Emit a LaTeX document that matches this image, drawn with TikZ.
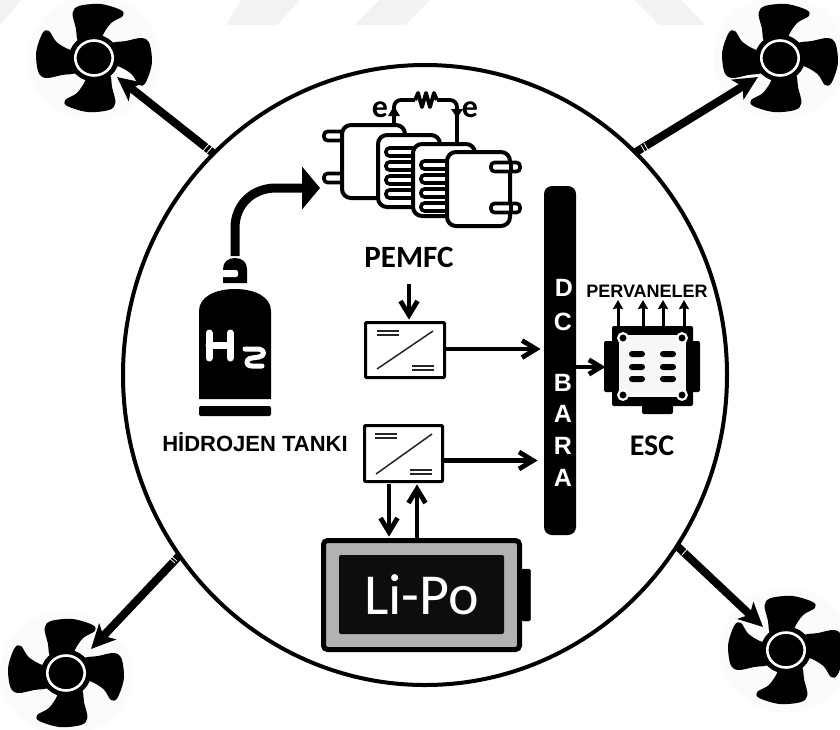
\documentclass[tikz,border=0pt]{standalone}
\usepackage{fontspec}
\setmainfont{Liberation Sans}
\newfontfamily\calfont{Carlito}
\usetikzlibrary{arrows.meta}
\tikzset{
  x=1pt,y=-1pt,
  fan/.pic={
    \begin{scope}[xscale=1.07]
    \fill[black!1.5] (0,0) circle[radius=62];
    \foreach \a in {0,90,180,270}{
      \fill[black,rotate=\a] plot[smooth cycle,tension=.55] coordinates
        {(-13,-14) (-17,-30) (-20,-45) (-14,-52) (6,-54) (25,-48) (27,-42) (16,-35) (8,-22) (10,-14)};
    }
    \fill[black] (0,0) circle[radius=23.5];
    \draw[white,line width=2.6pt] (0,0) circle[radius=17.5];
    \end{scope}
  },
  barb/.pic={
    \draw[black,line width=4.8pt,line join=miter] (-19,-8.5) -- (-5,0) -- (-19,8.5);
  },
  thrust/.style={line width=8pt,draw=black,-{Stealth[length=24pt,width=23pt,inset=6pt]}},
  flow/.style={line width=4.6pt,draw=black,shorten >=5pt},
  smallflow/.style={line width=3pt,draw=black,-{Stealth[length=9pt,width=10pt,inset=1pt]}},
  conv/.style={draw=black,line width=3pt,fill=white,rounded corners=1pt,inner sep=0pt},
  plate/.style={draw=black,line width=4pt,fill=white,rounded corners=9pt},
  pill/.style={draw=black,line width=3.6pt,fill=white,rounded corners=3.5pt},
  sig/.style={draw=black!85,line width=1.5pt},
  h2/.style={draw=white,line width=7pt,line cap=round,line join=round},
  wire/.style={draw=black,line width=3.8pt,line join=round},
  busletter/.style={text=white,font=\fontsize{25}{25}\selectfont\bfseries,inner sep=0pt},
  tick/.style={draw=white,line width=.8pt},
}
\begin{document}
\begin{tikzpicture}
\useasboundingbox (0,0) rectangle (840,729);
\fill[white] (0,0) rectangle (840,729);
% faint watermark
\fill[black!5] (0,0) -- (21,0) -- (0,25) -- cycle;
\fill[black!5] (241,0) -- (300,0) -- (277,25) -- (226,25) -- cycle;
\fill[black!5] (380,0) -- (430,0) -- (405,25) -- (354,25) -- cycle;
\fill[black!5] (635,0) -- (681,0) -- (705,25) -- (659,25) -- cycle;
% fans
\pic at (94,58) {fan};
\pic at (780,58) {fan};
\pic at (66,673) {fan};
\pic at (786,650) {fan};
\coordinate (fanTL) at (117,77);
\coordinate (fanTR) at (758,77);
\coordinate (fanBL) at (91,649);
\coordinate (fanBR) at (763,627);
% main circle
\draw[black,line width=4pt] (425,375) ellipse [x radius=302,y radius=310];
\coordinate (hullTL) at (213,153);
\coordinate (hullTR) at (636,152);
\coordinate (hullBL) at (179,556);
\coordinate (hullBR) at (677,546);
\draw[thrust] (hullTL) -- (fanTL);
\draw[thrust] (hullTR) -- (fanTR);
\draw[thrust] (hullBL) -- (fanBL);
\draw[thrust] (hullBR) -- (fanBR);
\draw[tick] (203,151) -- (209,144);
\draw[tick] (206,154) -- (212,147);
\draw[tick] (641,145) -- (646,154);
\draw[tick] (644,143) -- (649,152);
\draw[tick] (168,557) -- (175,563);
\draw[tick] (170,555) -- (177,561);
\draw[tick] (682,555) -- (688,548);
% PEMFC stack
\draw[wire,rounded corners=7pt] (394,125) -- (394,100) -- (415,100);
\draw[wire] (415,100) -- (418,93) -- (422,107) -- (426,93) -- (430,107) -- (434,93) -- (437,100);
\draw[wire,rounded corners=7pt] (437,100) -- (457,100) -- (457,142);
\fill (394,106) -- (388,116) -- (400,116) -- cycle;
\fill (457,118) -- (451,109) -- (463,109) -- cycle;
\node[inner sep=0pt,font=\calfont\bfseries\fontsize{32}{32}\selectfont] (e1) at (380,110) {e};
\node[inner sep=0pt,font=\calfont\bfseries\fontsize{32}{32}\selectfont] (e2) at (470,110) {e};
\draw[pill] (324,131.5) rectangle (344,140.5);
\draw[pill] (324,173.5) rectangle (344,182.5);
\draw[plate] (342,125) rectangle (405,198);
\draw[plate] (378,135) rectangle (440,207);
\foreach \y in {152,166,180,194}{\draw[pill] (386,\y-4) rectangle (416,\y+4);}
\draw[plate] (413,144) rectangle (475,216);
\foreach \y in {165,179,193,207}{\draw[pill] (421,\y-4) rectangle (450,\y+4);}
\draw[plate] (447,152) rectangle (510,226);
\draw[pill] (491,162.5) rectangle (520,171.5);
\draw[pill] (491,203.5) rectangle (520,212.5);
\draw[black,line width=3.6pt] (511,162.5) -- (511,171.5) (511,203.5) -- (511,212.5);
\node[inner sep=0pt,font=\calfont\bfseries\fontsize{31}{31}\selectfont] (pemfc) at (409,257) {PEMFC};
% hydrogen tank
\fill[black] (199,399) -- (199,311) .. controls (199,297) and (215,289) .. (235,289)
  .. controls (255,289) and (271,297) .. (271,311) -- (271,399) -- cycle;
\fill[black,rounded corners=2pt] (199,406) rectangle (271,416);
\fill[black] (223,283) -- (223,269) .. controls (223,262) and (228,258) .. (235,258)
  .. controls (242,258) and (247,262) .. (247,269) -- (247,283) -- cycle;
\fill[white,rounded corners=2pt] (221,270) rectangle (238,277);
\draw[h2] (209,333) -- (209,358) (230,333) -- (230,358) (209,345) -- (230,345);
\draw[white,line width=5pt,line cap=round,line join=round] (245,349) -- (259,349)
  .. controls (265,350) and (265,356) .. (259,357) -- (252,358)
  .. controls (245,359) and (245,366) .. (252,366) -- (262,366);
\node[inner sep=0pt,font=\bfseries\fontsize{22}{22}\selectfont] (tank) at (255,442) {HİDROJEN TANKI};
\coordinate (tankout) at (235,256);
\coordinate (pemfcin) at (320,188);
\draw[black,line width=9pt,-{Triangle[length=18pt,width=42pt]}] (tankout) -- (235,228)
  .. controls (235,205) and (252,188) .. (276,188) -- (pemfcin);
% converters
\node[conv,minimum width=79pt,minimum height=55pt] (c1) at (405,350) {};
\node[conv,minimum width=78pt,minimum height=56pt] (c2) at (403.5,453.5) {};
\draw[sig] (377,369) -- (433,331);
\draw[sig] (377,331) -- (399,331) (377,335) -- (399,335) (412,366) -- (434,366) (412,370) -- (434,370);
\draw[sig] (376,474) -- (432,434);
\draw[sig] (375,434) -- (397,434) (375,438) -- (397,438) (410,470) -- (432,470) (410,474) -- (432,474);
% bus
\node[draw=none,fill=black,rounded corners=8pt,minimum width=32pt,minimum height=349pt,inner sep=0pt] (bus) at (560,360.5) {};
\node[busletter] at (564,288) {D};
\node[busletter] at (563,322) {C};
\node[busletter] at (563,383) {B};
\node[busletter] at (563,414) {A};
\node[busletter] at (563,446) {R};
\node[busletter] at (563,478) {A};
% battery
\node[draw=black,fill=black,rounded corners=2pt,minimum width=9pt,minimum height=52pt,inner sep=0pt] (term) at (526,595) {};
\node[draw=black,line width=5pt,fill=black!30,rounded corners=4pt,minimum width=196pt,minimum height=109pt,inner sep=0pt] (batt) at (421.5,595) {};
\node[fill=black!95,rounded corners=2pt,minimum width=165pt,minimum height=79pt,inner sep=0pt,text=white,font=\calfont\fontsize{58}{58}\selectfont] (lipo) at (421.5,594.5) {Li-Po};
% flow arrows
\coordinate (pemfcout) at (409,284);
\coordinate (cone) at (409,320);
\coordinate (down) at (389,484);
\coordinate (downend) at (389,537);
\coordinate (up) at (417,538);
\coordinate (upend) at (417,484);
\coordinate (busin1) at (541,349);
\coordinate (busin2) at (538,460.5);
\draw[flow] (pemfcout) -- (cone);
\draw[flow] (c1.east |- busin1) -- (busin1);
\draw[flow] (c2.east |- busin2) -- (busin2);
\draw[flow] (down) -- (downend);
\draw[flow] (up) -- (upend);
\pic[rotate=-90] at (cone) {barb};
\pic at (busin1) {barb};
\pic at (busin2) {barb};
\pic[rotate=-90] at (downend) {barb};
\pic[rotate=90] at (upend) {barb};
% ESC
\fill[black,rounded corners=2pt] (642,400) rectangle (673,414);
\fill[black,rounded corners=2pt] (612,326) rectangle (693,406);
\fill[black,rounded corners=2pt] (604,341) rectangle (700,392);
\node[fill=black!3,minimum width=67pt,minimum height=62pt,inner sep=0pt] (esc) at (652.5,366) {};
\foreach \x in {623,682}{\foreach \y in {338,395}{
  \draw[white,line width=2.2pt,fill=black] (\x,\y) circle[radius=4.8];}}
\foreach \x in {637,668}{\foreach \y in {354,367,379}{
  \fill[black,rounded corners=3pt] (\x-8,\y-3) rectangle (\x+8,\y+3);}}
\coordinate (escin) at (605,367);
\draw[flow] (bus.east |- escin) -- (escin);
\pic[scale=.85] at (escin) {barb};
\node[inner sep=0pt,font=\bfseries\fontsize{18}{18}\selectfont] (perv) at (647,291) {PERVANELER};
\foreach \x/\n in {618/a,643/b,663/c,684/d}{
  \coordinate (o\n) at (\x,326);
  \coordinate (p\n) at (\x,300);
  \draw[smallflow] (o\n) -- (p\n);
}
\node[inner sep=0pt,font=\calfont\bfseries\fontsize{30}{30}\selectfont] (esclabel) at (652,446) {ESC};
\end{tikzpicture}
\end{document}
